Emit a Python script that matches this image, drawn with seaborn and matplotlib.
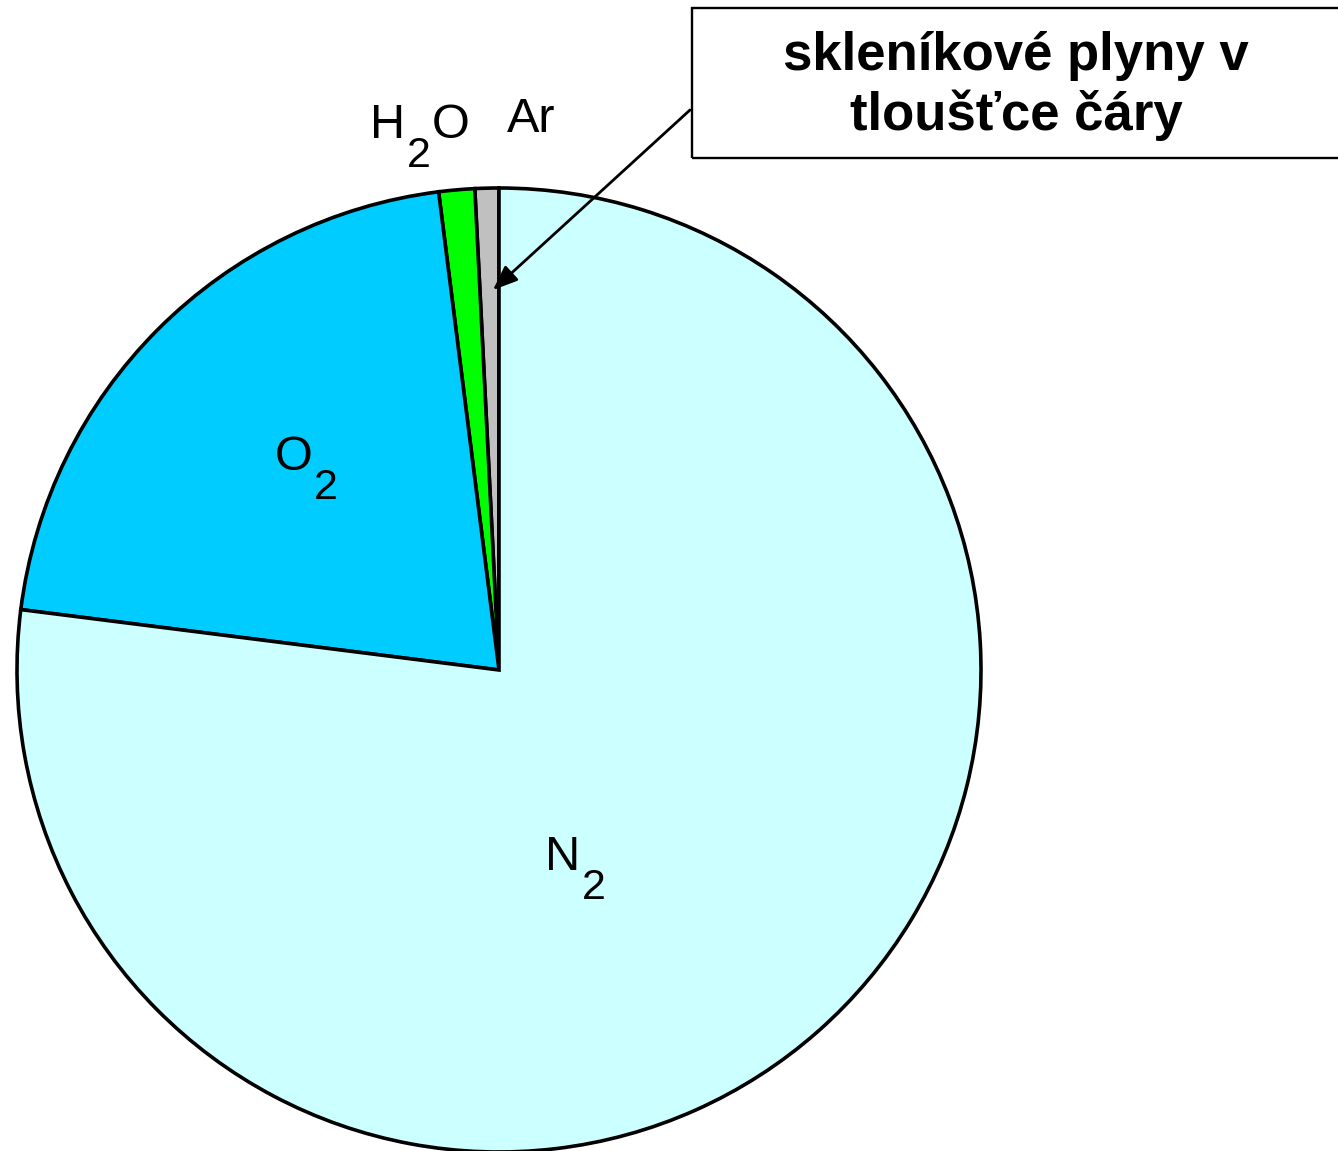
import matplotlib
matplotlib.use("Agg")
import matplotlib.pyplot as plt
from matplotlib.patches import Rectangle
import seaborn as sns

sns.set_theme(style="white")
plt.rcParams["font.family"] = ["Liberation Sans", "DejaVu Sans"]

# Composition of the atmosphere (percent by volume)
gases = ["Ar", "H2O", "O2", "N2"]
shares = [0.8, 1.2, 21.0, 77.0]
colors = ["#C0C0C0", "#00FF00", "#00CCFF", "#CCFFFF"]
callout_lines = ["skleníkové plyny v", "tloušťce čáry"]

W, H, DPI = 1338, 1151, 100
fig = plt.figure(figsize=(W / DPI, H / DPI), dpi=DPI)
ax = fig.add_axes([0, 0, 1, 1])

ax.pie(shares, colors=colors, startangle=90, counterclock=True, radius=1.0,
       wedgeprops=dict(edgecolor="black", linewidth=2.6))

# pie centred at (499, 670) px with radius 482 px
cx, cy, R = 499, 670, 482
ax.set_xlim((0 - cx) / R, (W - cx) / R)
ax.set_ylim((cy - H) / R, (cy - 0) / R)
ax.set_aspect("equal", adjustable="box")
ax.set_axis_off()


def px(x, y):
    return (x - cx) / R, (cy - y) / R


FS_MAIN, FS_SUB = 35, 31
SUB_DROP = -20  # points below main baseline


def chem(x, y, parts):
    """Draw a formula: parts is a list of (text, is_subscript)."""
    prev = None
    base = None
    for txt, sub in parts:
        if prev is None:
            t = ax.text(*px(x, y), txt, fontsize=FS_MAIN, ha="left", va="baseline",
                        color="black")
            base = t
        else:
            t = ax.annotate(txt, xy=(1, 0), xycoords=(prev, base),
                            xytext=(1, SUB_DROP if sub else 0), textcoords="offset points",
                            fontsize=FS_SUB if sub else FS_MAIN,
                            ha="left", va="bottom", color="black")
        prev = t


# label baselines
chem(370, 138, [("H", False), ("2", True), ("O", False)])
chem(507, 132, [("Ar", False)])
chem(275, 470, [("O", False), ("2", True)])
chem(545, 870, [("N", False), ("2", True)])

# callout box with arrow
box_l, box_t, box_b = 692, 8, 158
fig.patches.append(Rectangle((box_l / W, 1 - box_b / H), 1.0, (box_b - box_t) / H,
                             transform=fig.transFigure, fill=False,
                             edgecolor="black", linewidth=1.7))
for line, base_y in zip(callout_lines, [70, 130]):
    fig.text(1016 / W, 1 - base_y / H, line, ha="center", va="baseline",
             fontsize=38, fontweight="bold", color="black")

ax.annotate("", xy=px(493, 290), xycoords="data",
            xytext=(690, H - 110), textcoords="figure pixels",
            arrowprops=dict(arrowstyle="-|>,head_length=0.75,head_width=0.3",
                            mutation_scale=20, lw=2.0, color="black",
                            shrinkA=0, shrinkB=0))

fig.savefig("out.png", dpi=DPI)
